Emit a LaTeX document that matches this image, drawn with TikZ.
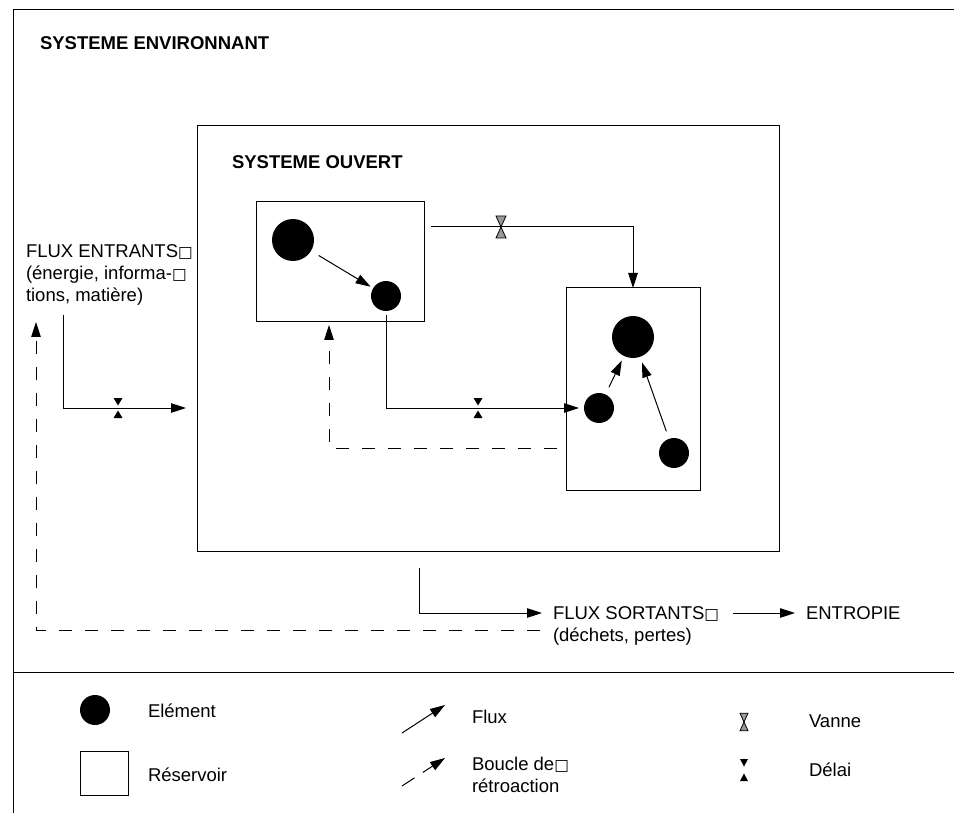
\documentclass[tikz,border=0pt]{standalone}
\usepackage{fontspec}
\setmainfont{Liberation Sans}
\newfontfamily\symfont{DejaVu Sans}
\usetikzlibrary{arrows.meta}
\newcommand\nd{{\symfont\fontsize{15.5}{15.5}\selectfont □}}
\begin{document}
\begin{tikzpicture}[x=1pt,y=-1pt,line width=1pt,
  font=\fontsize{18.5}{22.5}\selectfont,
  txt/.style={inner sep=0pt,outer sep=0pt,anchor=base west},
  boldtxt/.style={txt,font=\fontsize{18.5}{22.5}\selectfont\bfseries},
  elem/.style={circle,fill=black,inner sep=0pt,outer sep=0pt},
  bigel/.style={elem,minimum size=42pt},
  smallel/.style={elem,minimum size=30pt},
  res/.style={draw,inner sep=0pt,outer sep=0pt},
  flow/.style={-{Triangle[length=15pt,width=9.5pt]}},
  fb/.style={flow,dash pattern=on 13pt off 13pt},
  vanne/.pic={\draw[fill=black!40,line width=0.8pt]
     (-5,-11) -- (5,-11) -- (0,0) -- cycle
     (-5,11) -- (5,11) -- (0,0) -- cycle;},
  delai/.pic={\fill (-4.5,-10) -- (4.5,-10) -- (0,-2.5) -- cycle
     (-4.5,10) -- (4.5,10) -- (0,2.5) -- cycle;},
  delaileg/.pic={\fill (-4,-11) -- (4,-11) -- (0,-3.5) -- cycle
     (-4,11) -- (4,11) -- (0,3.5) -- cycle;}
]
\useasboundingbox (0,0) rectangle (954,813);
% frame
\draw (954,10) -- (13,10) -- (13,813);
\draw (13,672) -- (954,672);
\node[boldtxt] (envlab) at (40,50) {SYSTEME ENVIRONNANT};

% open system
\node[res,anchor=north west,minimum width=582pt,minimum height=425pt] (ouvert) at (197,126) {};
\node[boldtxt] (ouvlab) at (232,169) {SYSTEME OUVERT};
\node[res,anchor=north west,minimum width=168pt,minimum height=120pt] (res1) at (256,202) {};
\node[res,anchor=north west,minimum width=134pt,minimum height=202pt] (res2) at (566,288) {};

\node[bigel] (e1) at (293,240) {};
\node[smallel] (e2) at (386,296) {};
\node[bigel] (e3) at (633,337) {};
\node[smallel] (e4) at (599,408) {};
\node[smallel] (e5) at (674,453) {};

\draw[flow,shorten <=9pt,shorten >=3pt] (e1) -- (e2);
\draw[flow,shorten <=8pt,shorten >=5pt] (e4) -- (e3);
\draw[flow,shorten <=8pt,shorten >=6pt] (e5) -- (e3);

\coordinate (v0) at (431,227);
\draw[flow] (v0) -| (res2.north);
\pic at (501,227) {vanne};

\draw[flow,shorten <=4pt,shorten >=5pt] (e2.south) |- (e4.west);
\pic at (478,408) {delai};

\coordinate (fi0) at (557,448);
\coordinate (fi1) at (329,325);
\draw[fb] (fi0) -| (fi1);

% inputs
\node[txt] (fe1) at (26,258) {FLUX ENTRANTS\nd};
\node[txt] (fe2) at (26,280) {(énergie, informa-\nd};
\node[txt] (fe3) at (26,302) {tions, matière)};
\coordinate (in0) at (63,315);
\coordinate (in1) at (186,408);
\draw[flow] (in0) |- (in1);
\pic at (118,408) {delai};

% outputs
\node[txt] (fs) at (553,619) {FLUX SORTANTS\nd};
\node[txt] (fs2) at (553,641) {(déchets, pertes)};
\node[txt] (ent) at (806,619) {ENTROPIE};
\coordinate (out0) at (419,568);
\coordinate (out1) at (542,613);
\draw[flow] (out0) |- (out1);
\coordinate (en0) at (733,613);
\coordinate (en1) at (795,613);
\draw[flow] (en0) -- (en1);
\coordinate (fo0) at (540,630);
\coordinate (fo1) at (36,322);
\draw[fb] (fo0) -| (fo1);

% legend
\node[smallel] (le) at (95,710) {};
\node[txt] (lt1) at (148,717) {Elément};
\node[res,minimum width=48pt,minimum height=44pt] (lr) at (104,773) {};
\node[txt] (lt2) at (148,781) {Réservoir};
\coordinate (lf0) at (402,733);
\coordinate (lf1) at (445,705);
\draw[flow] (lf0) -- (lf1);
\node[txt] (lt3) at (472,723) {Flux};
\coordinate (lb0) at (402,786);
\coordinate (lb1) at (445,758);
\draw[flow,dash pattern=on 15pt off 10pt] (lb0) -- (lb1);
\node[txt] (lt4) at (472,770) {Boucle de\nd};
\node[txt] (lt5) at (472,792) {rétroaction};
\pic[scale=0.8] at (744,722) {vanne};
\node[txt] (lt6) at (809,727) {Vanne};
\pic at (744,770) {delaileg};
\node[txt] (lt7) at (809,776) {Délai};
\end{tikzpicture}
\end{document}
